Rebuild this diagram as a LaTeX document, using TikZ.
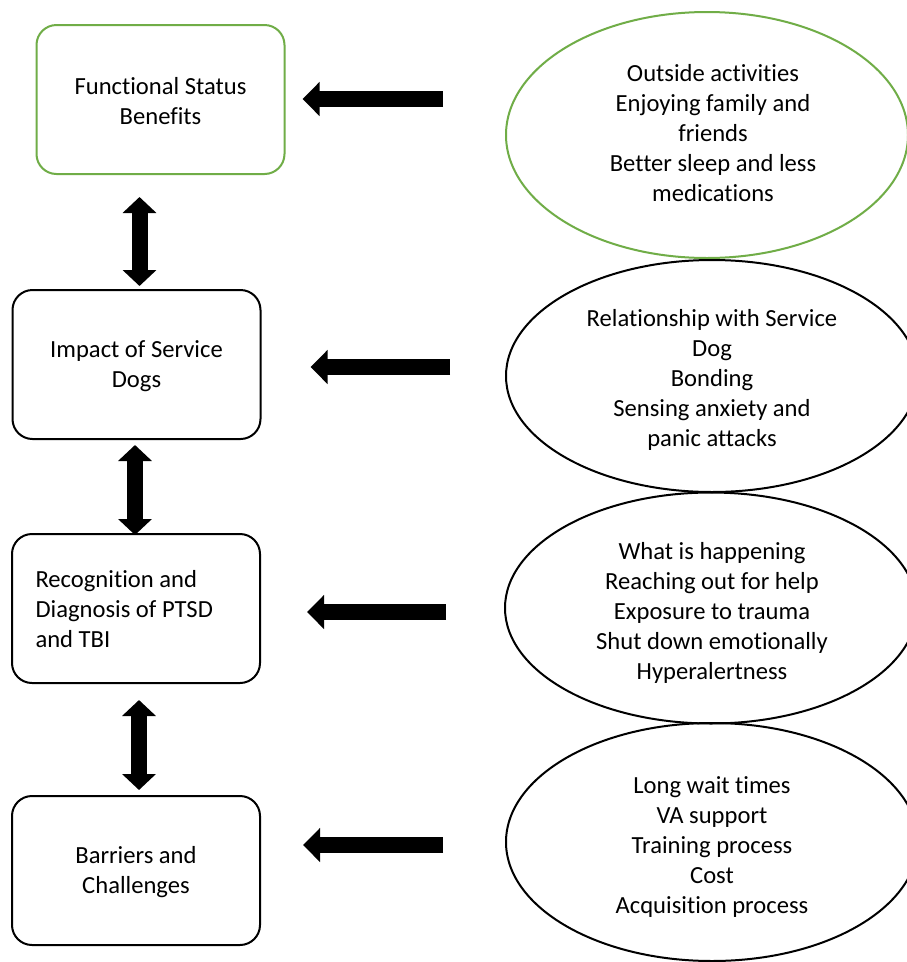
\documentclass[tikz,border=0pt]{standalone}
\usepackage{fontspec}
\setmainfont{Carlito}[Ligatures={NoCommon,NoContextual}]
\usetikzlibrary{shapes.geometric,arrows.meta}
\definecolor{ogreen}{RGB}{112,173,71}
\begin{document}
\begin{tikzpicture}[x=1pt,y=-1pt,
  txt/.style={font=\fontsize{24.6}{30}\selectfont},
  box/.style={txt, draw, line width=2pt, rounded corners=20pt, minimum width=248pt, minimum height=149pt, align=center, inner sep=0pt},
  oval/.style={txt, draw, ellipse, line width=2pt, align=center, inner sep=0pt},
  barrow/.style={line width=16pt, -{Triangle[length=17pt,width=33pt]}},
  darrow/.style={line width=16pt, {Triangle[length=16pt,width=33pt]}-{Triangle[length=16pt,width=33pt]}}]
\clip (0,0) rectangle (907,962);
\fill[white] (0,0) rectangle (907,962);
% left boxes
\node[box, draw=ogreen] (b1) at (160.5,99.5) {};
\node[txt, align=center] (b1t) at (160.5,101.5) {Functional Status\\Benefits};
\node[box] (b2) at (136.5,364.5) {};
\node[txt, align=center] (b2t) at (136.5,366.5) {Impact of Service\\Dogs};
\node[box] (b3) at (136,608.5) {};
\node[txt, align=left, anchor=west] (b3t) at (32,609) {Recognition and\\Diagnosis of PTSD\\and TBI};
\node[box] (b4) at (136,870.5) {};
\node[txt, align=center] (b4t) at (136,872.5) {Barriers and\\Challenges};
% ellipses
\node[oval, draw=ogreen, minimum width=402pt, minimum height=246pt] (e1) at (707,135) {};
\node[txt, align=center] (e1t) at (713,133) {Outside activities\\Enjoying family and\\friends\\Better sleep and less\\medications};
\node[oval, minimum width=412pt, minimum height=232pt] (e2) at (712,376) {};
\node[txt, align=center] (e2t) at (712,380) {Relationship with Service\\Dog\\Bonding\\Sensing anxiety and\\panic attacks};
\node[oval, minimum width=412pt, minimum height=231pt] (e3) at (711,608) {};
\node[txt, align=center] (e3t) at (712,613) {What is happening\\Reaching out for help\\Exposure to trauma\\Shut down emotionally\\Hyperalertness};
\node[oval, minimum width=412pt, minimum height=238pt] (e4) at (712,842) {};
\node[txt, align=center] (e4t) at (712,847) {Long wait times\\VA support\\Training process\\Cost\\Acquisition process};
% horizontal arrows
\coordinate (t1) at (443,99);
\coordinate (t2) at (450,367);
\coordinate (t3) at (446,612);
\coordinate (t4) at (443,845);
\draw[barrow, shorten >=17pt] (t1) -- (b1.east |- t1);
\draw[barrow, shorten >=49pt] (t2) -- (b2.east |- t2);
\draw[barrow, shorten >=46pt] (t3) -- (b3.east |- t3);
\draw[barrow, shorten >=42pt] (t4) -- (b4.east |- t4);
% vertical arrows
\coordinate (v1) at (139.5,0);
\coordinate (v2) at (135,0);
\coordinate (v3) at (139,0);
\draw[darrow, shorten <=22pt, shorten >=3pt] (b1.south -| v1) -- (b2.north -| v1);
\draw[darrow, shorten <=5pt, shorten >=-2pt] (b2.south -| v2) -- (b3.north -| v2);
\draw[darrow, shorten <=16pt, shorten >=5pt] (b3.south -| v3) -- (b4.north -| v3);
\end{tikzpicture}
\end{document}
